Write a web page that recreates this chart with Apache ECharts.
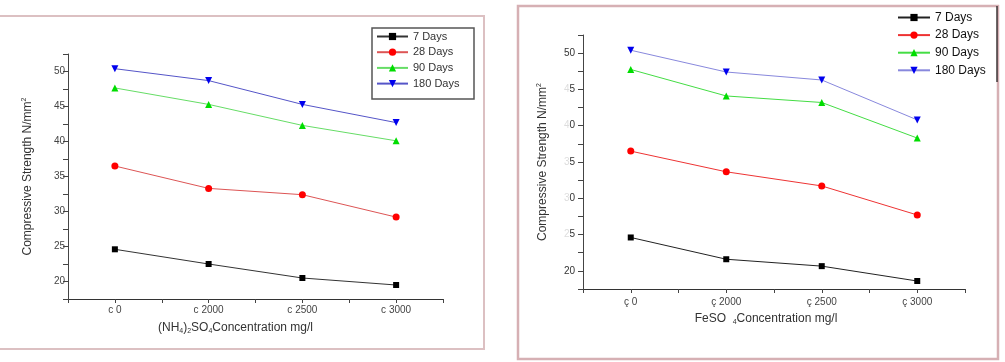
<!DOCTYPE html>
<html>
<head>
<meta charset="utf-8">
<script src="https://cdn.jsdelivr.net/npm/echarts@6/dist/echarts.min.js"></script>
<style>
  html, body { margin: 0; padding: 0; background: #fff; }
  #chart { width: 1005px; height: 362px; }
</style>
</head>
<body>
<div id="chart"></div>
<script>
// data
const leftCategories = ['c 0', 'c 2000', 'c 2500', 'c 3000']
const rightCategories = ['ç 0', 'ç 2000', 'ç 2500', 'ç 3000']
const seriesNames = ['7 Days', '28 Days', '90 Days', '180 Days']

// (NH4)2SO4 panel
const nh4Days7 = [24.6, 22.5, 20.5, 19.5]
const nh4Days28 = [36.5, 33.3, 32.4, 29.2]
const nh4Days90 = [47.65, 45.3, 42.3, 40.1]
const nh4Days180 = [50.4, 48.7, 45.3, 42.7]

// FeSO4 panel
const feDays7 = [24.6, 21.6, 20.65, 18.6]
const feDays28 = [36.5, 33.65, 31.7, 27.7]
const feDays90 = [47.75, 44.1, 43.2, 38.3]
const feDays180 = [50.4, 47.4, 46.3, 40.8]

// tick labels (right panel labels are partly washed out in the source)
const leftYLabels = { 20: '20', 25: '25', 30: '30', 35: '35', 40: '40', 45: '45', 50: '50' }
const rightYLabels = { 20: '20', 25: '{f|2}5', 30: '{f|3}0', 35: '{f|3}5', 40: '{f|4}0', 45: '{f|4}5', 50: '50' }

const font = 'Liberation Sans, Arial, sans-serif'

const markers = [
  { symbol: 'rect', size: 6, color: '#000000', line: '#333333', lineR: '#222222' },
  { symbol: 'circle', size: 7, color: '#ff0000', line: '#dd5555', lineR: '#ee3333' },
  { symbol: 'triangle', size: 7, color: '#00dd00', line: '#66dd66', lineR: '#44dd44' },
  { symbol: 'triangle', size: 7, color: '#0000ee', line: '#5555c8', lineR: '#8888dd', rotate: 180 }
]

const chart = echarts.init(document.getElementById('chart'), null, { renderer: 'canvas' })

function makeSeries(name, data, idx, axisIdx, right) {
  const m = markers[idx]
  return {
    name: name,
    type: 'line',
    xAxisIndex: axisIdx,
    yAxisIndex: right ? 1 : 0,
    data: data,
    symbol: m.symbol,
    symbolSize: m.size,
    symbolRotate: m.rotate || 0,
    itemStyle: { color: m.color },
    lineStyle: { color: right ? m.lineR : m.line, width: 1 },
    emphasis: { disabled: true }
  }
}

function yAxis(gridIndex, labels, labelColor, margin, name, nameGap) {
  return {
    type: 'value',
    gridIndex: gridIndex,
    min: 17.5,
    max: 52.5,
    interval: 2.5,
    splitLine: { show: false },
    axisLine: { show: true, lineStyle: { color: '#444', width: 1 } },
    axisTick: { show: true, length: 5, lineStyle: { color: '#444' } },
    axisLabel: {
      margin: margin,
      color: labelColor,
      fontSize: 10,
      fontFamily: font,
      formatter: v => labels[v] || '',
      rich: { f: { color: '#dddddd', fontSize: 10, fontFamily: font } }
    },
    name: name,
    nameLocation: 'middle',
    nameRotate: 90,
    nameGap: nameGap,
    nameTextStyle: {
      color: '#333',
      fontSize: 12,
      lineHeight: 14,
      fontFamily: font,
      rich: { sup: { fontSize: 7, lineHeight: 9, verticalAlign: 'top', color: '#333', fontFamily: font } }
    }
  }
}

function xAxes(gridIndex, cats, labelMargin, name, nameGap, namePad) {
  return [
    {
      type: 'category',
      gridIndex: gridIndex,
      position: 'bottom',
      data: cats,
      boundaryGap: true,
      axisLine: { show: true, lineStyle: { color: '#333', width: 1.2 } },
      axisTick: { show: true, length: 4, alignWithLabel: false, lineStyle: { color: '#444' } },
      axisLabel: { margin: labelMargin, color: '#444', fontSize: 10, fontFamily: font },
      name: name,
      nameLocation: 'middle',
      nameGap: nameGap,
      nameTextStyle: {
        color: '#333',
        fontSize: 12,
        lineHeight: 14,
        fontFamily: font,
        padding: namePad,
        rich: { sub: { fontSize: 7, lineHeight: 9, verticalAlign: 'bottom', color: '#333', fontFamily: font } }
      }
    },
    {
      // second axis only for the ticks sitting on each category
      type: 'category',
      gridIndex: gridIndex,
      position: 'bottom',
      data: cats,
      boundaryGap: true,
      axisLine: { show: false },
      axisTick: { show: true, length: 4, alignWithLabel: true, lineStyle: { color: '#444' } },
      axisLabel: { show: false }
    }
  ]
}

const rightNames = seriesNames.map(n => n + ' ')

chart.setOption({
  animation: false,
  backgroundColor: '#fff',
  grid: [
    { left: 68, right: 562, top: 54, bottom: 63 },
    { left: 583, right: 40, top: 35, bottom: 73 }
  ],
  xAxis: [
    ...xAxes(0, leftCategories, 6, '(NH{sub|4}){sub|2}SO{sub|4}Concentration mg/l', 22, [0, 40, 0, 0]),
    ...xAxes(1, rightCategories, 8, 'FeSO  {sub|4}Concentration mg/l', 21, [0, 16, 0, 0])
  ],
  yAxis: [
    yAxis(0, leftYLabels, '#444', 3, 'Compressive Strength N/mm{sup|2}', 33),
    yAxis(1, rightYLabels, '#333', 8, 'Compressive Strength N/mm{sup|2}', 33)
  ],
  legend: [
    {
      orient: 'vertical',
      left: 376,
      top: 31,
      padding: 0,
      itemWidth: 31,
      itemHeight: 9,
      itemGap: 4.7,
      data: seriesNames,
      textStyle: { color: '#333', fontSize: 11, fontFamily: font }
    },
    {
      orient: 'vertical',
      left: 897,
      top: 11.5,
      padding: 0,
      itemWidth: 32,
      itemHeight: 9,
      itemGap: 5.6,
      data: rightNames,
      textStyle: { color: '#111', fontSize: 12, fontFamily: font }
    }
  ],
  graphic: [
    // panel frames
    { type: 'rect', shape: { x: -5, y: 16, width: 489, height: 333 }, style: { fill: 'none', stroke: '#dcc0c2', lineWidth: 2 }, silent: true },
    { type: 'rect', shape: { x: 518, y: 6, width: 480, height: 353 }, style: { fill: 'none', stroke: '#d6b0b4', lineWidth: 2.5 }, silent: true },
    // left legend box
    { type: 'rect', shape: { x: 372, y: 28, width: 102, height: 71 }, style: { fill: 'none', stroke: '#555', lineWidth: 1.5 }, silent: true },
    // right legend box edge
    { type: 'line', shape: { x1: 997, y1: 6, x2: 997, y2: 82 }, style: { stroke: '#111', lineWidth: 1.2 }, silent: true }
  ],
  series: [
    makeSeries(seriesNames[0], nh4Days7, 0, 0, false),
    makeSeries(seriesNames[1], nh4Days28, 1, 0, false),
    makeSeries(seriesNames[2], nh4Days90, 2, 0, false),
    makeSeries(seriesNames[3], nh4Days180, 3, 0, false),
    makeSeries(rightNames[0], feDays7, 0, 2, true),
    makeSeries(rightNames[1], feDays28, 1, 2, true),
    makeSeries(rightNames[2], feDays90, 2, 2, true),
    makeSeries(rightNames[3], feDays180, 3, 2, true)
  ]
})
</script>
</body>
</html>
